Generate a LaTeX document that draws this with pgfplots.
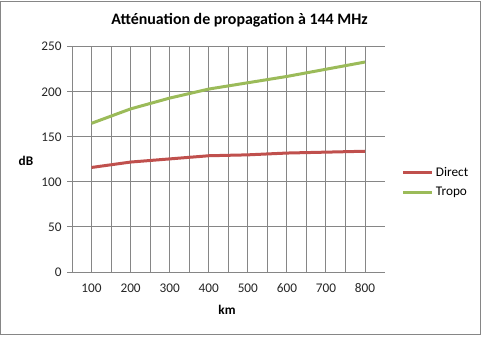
\documentclass[border=0pt]{standalone}
\usepackage{pgfplots}
\pgfplotsset{compat=1.18}
\usepackage{fontspec}
\setmainfont{Carlito}
\definecolor{direct}{RGB}{192,80,77}
\definecolor{tropo}{RGB}{155,187,89}
\definecolor{gridc}{RGB}{134,134,134}
\definecolor{frame}{RGB}{134,134,134}
\begin{document}
\begin{tikzpicture}[x=1bp,y=1bp]
\path[use as bounding box] (-72,-66) rectangle (411,272);
\draw[frame, line width=1bp] (-71,-62) rectangle (408.5,271);
\begin{axis}[
  scale only axis,
  width=312.6bp, height=225.3bp,
  xmin=0.5, xmax=8.5, ymin=0, ymax=250,
  axis lines=left,
  axis line style={gridc, line width=1bp, -},
  xtick={1,...,8},
  xticklabels={100,200,300,400,500,600,700,800},
  xtick style={draw=none},
  minor xtick={1.5,2.5,...,7.5},
  minor tick length=0pt,
  xmajorgrids, xminorgrids,
  extra x ticks={0.5,1.5,...,8.5},
  extra x tick labels={},
  extra x tick style={grid=none, major tick length=5bp, tick align=outside, tick style={gridc, line width=1bp, draw=gridc}},
  ytick={0,50,...,250},
  yticklabels={0,50,100,150,200,250},
  ymajorgrids,
  tick align=outside,
  major tick length=5bp,
  ytick style={gridc, line width=1bp},
  grid style={gridc, line width=1bp},
  minor grid style={gridc, line width=1bp},
  /pgf/number format/assume math mode=true,
  tick label style={font=\fontsize{13.3}{16}\selectfont, text=black!85},
  yticklabel style={xshift=-2bp},
  xticklabel style={yshift=-3bp},
  legend style={draw=none, fill=none, at={(1.055,0.398)}, anchor=west,
    font=\fontsize{13.3}{16}\selectfont, inner sep=0pt, row sep=5bp,
    /tikz/every even column/.style={column sep=0pt}},
  legend cell align=left,
  legend image code/.code={\draw[#1] (0bp,0bp) -- (29bp,0bp);},
  clip=false,
]
\addplot[direct, line width=3bp] coordinates {(1,116) (2,122) (3,125.5) (4,129) (5,130) (6,132) (7,133) (8,134)};
\addlegendentry{Direct}
\addplot[tropo, line width=3bp] coordinates {(1,165) (2,181) (3,193) (4,203) (5,210) (6,217) (7,225) (8,233)};
\addlegendentry{Tropo}
\end{axis}
\node[font=\fontsize{16}{19}\selectfont\bfseries] at (167.5,252) {Atténuation de propagation à 144 MHz};
\node[font=\fontsize{13.3}{16}\selectfont\bfseries] at (-46,111.3) {dB};
\node[font=\fontsize{13.3}{16}\selectfont\bfseries] at (155,-38) {km};
\end{tikzpicture}
\end{document}
